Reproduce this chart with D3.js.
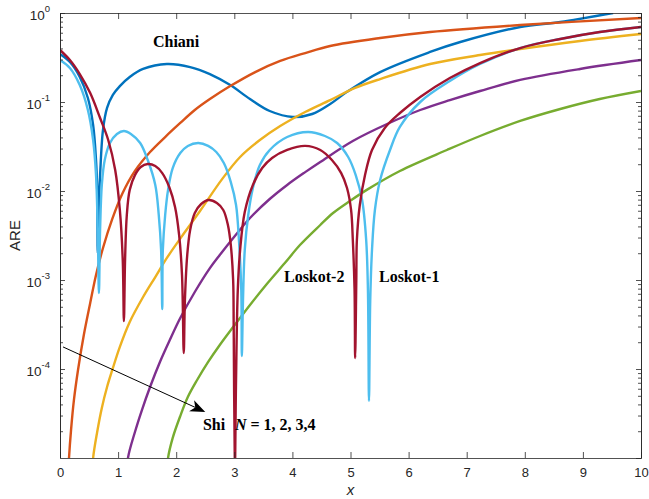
<!DOCTYPE html>
<html><head><meta charset="utf-8">
<script src="https://cdn.jsdelivr.net/npm/d3@7"></script>
<style>body{margin:0;background:#fff}</style>
</head><body>
<script>
// ---- Data ----
const chianiX = [0, 0.17, 0.34, 0.48, 0.57, 0.62, 0.64, 0.65, 0.67, 0.69, 0.74, 0.81, 0.91, 1.03, 1.20, 1.43, 1.84, 2.24, 2.58, 2.93, 3.27, 3.61, 4.01, 4.34, 4.65, 4.94, 5.51, 6.37, 6.89, 7.92, 8.61, 9.52];
const chianiY = [0.346, 0.281, 0.191, 0.111, 0.0552, 0.0223, 0.0103, 0.002, 0.0079, 0.0151, 0.0485, 0.0857, 0.12, 0.151, 0.191, 0.235, 0.267, 0.247, 0.206, 0.155, 0.108, 0.0792, 0.0678, 0.0733, 0.095, 0.130, 0.217, 0.365, 0.472, 0.696, 0.792, 1.0];

const shi1X = [0.138, 0.155, 0.19, 0.24, 0.31, 0.41, 0.52, 0.62, 0.74, 0.90, 1.07, 1.29, 1.55, 1.81, 2.07, 2.32, 2.58, 2.93, 3.36, 3.79, 4.22, 4.65, 5.51, 6.37, 7.92, 10];
const shi1Y = [5.7e-6, 1e-5, 2.06e-5, 4.49e-5, 9.75e-5, 2.41e-4, 5.52e-4, 1.14e-3, 2.29e-3, 4.85e-3, 9.25e-3, 0.0168, 0.0274, 0.0404, 0.0581, 0.0813, 0.108, 0.151, 0.217, 0.289, 0.355, 0.426, 0.524, 0.612, 0.733, 0.879];

const shi2X = [0.55, 0.57, 0.64, 0.72, 0.81, 0.90, 1.03, 1.20, 1.43, 1.64, 1.84, 2.15, 2.41, 2.79, 3.10, 3.44, 3.79, 4.22, 4.65, 5.08, 5.51, 6.37, 7.23, 7.92, 8.95, 10];
const shi2Y = [5.7e-6, 1e-5, 1.96e-5, 3.65e-5, 6.28e-5, 9.75e-5, 1.77e-4, 3.37e-4, 6.44e-4, 1.08e-3, 1.77e-3, 3.46e-3, 5.96e-3, 0.0136, 0.0241, 0.0374, 0.0537, 0.0773, 0.105, 0.144, 0.181, 0.267, 0.337, 0.394, 0.485, 0.581];

const shi3X = [1.15, 1.17, 1.29, 1.41, 1.55, 1.72, 1.89, 2.07, 2.32, 2.58, 2.75, 3.01, 3.27, 3.61, 3.91, 4.22, 4.48, 5.04, 5.63, 6.20, 6.71, 7.23, 7.92, 8.95, 10];
const shi3Y = [5.7e-6, 1e-5, 1.96e-5, 3.46e-5, 6.28e-5, 1.2e-4, 2.12e-4, 3.74e-4, 7.33e-4, 1.36e-3, 1.91e-3, 3.12e-3, 4.97e-3, 8.13e-3, 0.0117, 0.0163, 0.0212, 0.0365, 0.0566, 0.0813, 0.105, 0.133, 0.177, 0.235, 0.296];

const shi4X = [1.84, 1.86, 1.94, 2.07, 2.20, 2.36, 2.55, 2.75, 2.98, 3.27, 3.56, 3.87, 4.13, 4.48, 4.70, 4.99, 5.28, 5.85, 6.66, 7.23, 7.92, 8.61, 9.29, 10];
const shi4Y = [5.7e-6, 1e-5, 1.68e-5, 2.96e-5, 4.84e-5, 7.52e-5, 1.2e-4, 1.86e-4, 2.96e-4, 5.24e-4, 9.02e-4, 1.55e-3, 2.47e-3, 4.15e-3, 5.66e-3, 7.72e-3, 0.0103, 0.0168, 0.0289, 0.0415, 0.0612, 0.0834, 0.108, 0.133];

const loskot1X = [0, 0.17, 0.34, 0.48, 0.57, 0.62, 0.65, 0.67, 0.69, 0.72, 0.77, 0.86, 0.98, 1.10, 1.22, 1.38, 1.51, 1.64, 1.70, 1.74, 1.76, 1.77, 1.81, 1.86, 1.94, 2.07, 2.20, 2.38, 2.55, 2.69, 2.82, 2.94, 3.03, 3.08, 3.12, 3.13, 3.15, 3.18, 3.24, 3.32, 3.44, 3.61, 3.91, 4.27, 4.56, 4.77, 4.96, 5.09, 5.20, 5.27, 5.30, 5.318, 5.34, 5.37, 5.42, 5.51, 5.68, 5.85, 6.20, 6.71, 7.23, 7.92, 8.61, 9.29, 10];
const loskot1Y = [0.296, 0.241, 0.155, 0.0813, 0.0374, 0.0151, 0.00365, 0.000714, 0.00365, 0.0117, 0.0223, 0.0346, 0.0437, 0.0472, 0.0437, 0.0346, 0.0223, 0.0117, 0.00537, 0.00217, 0.000472, 0.00217, 0.00537, 0.0103, 0.0181, 0.0267, 0.0321, 0.0346, 0.0321, 0.0274, 0.0206, 0.0126, 0.00696, 0.00281, 0.000773, 0.00014, 0.000596, 0.00217, 0.00537, 0.0108, 0.0196, 0.0289, 0.0404, 0.046, 0.0415, 0.0346, 0.0241, 0.0151, 0.00792, 0.00281, 0.000773, 4.37e-5, 0.000596, 0.00217, 0.00612, 0.0133, 0.0289, 0.0524, 0.1, 0.172, 0.267, 0.404, 0.511, 0.612, 0.696];

const loskot2X = [0, 0.17, 0.34, 0.52, 0.69, 0.83, 0.95, 1.03, 1.08, 1.10, 1.12, 1.15, 1.20, 1.29, 1.39, 1.51, 1.64, 1.76, 1.88, 1.98, 2.05, 2.10, 2.13, 2.15, 2.19, 2.24, 2.32, 2.43, 2.56, 2.70, 2.81, 2.89, 2.94, 2.98, 2.99, 3.01, 3.03, 3.06, 3.10, 3.18, 3.32, 3.48, 3.65, 3.91, 4.22, 4.48, 4.68, 4.84, 4.94, 5.01, 5.04, 5.07, 5.08, 5.10, 5.11, 5.16, 5.25, 5.37, 5.59, 5.85, 6.20, 6.71, 7.23, 7.92, 8.61, 9.29, 10];
const loskot2Y = [0.384, 0.296, 0.206, 0.126, 0.0661, 0.0374, 0.0172, 0.00612, 0.00168, 0.000346, 0.00168, 0.00537, 0.0103, 0.0151, 0.0186, 0.0201, 0.0191, 0.0159, 0.0111, 0.00661, 0.00321, 0.00114, 0.000151, 0.000596, 0.00191, 0.00365, 0.00566, 0.00714, 0.00792, 0.00733, 0.00612, 0.00415, 0.00247, 0.001, 0.000274, 7.3e-6, 7.52e-5, 0.000773, 0.00217, 0.00581, 0.0117, 0.0181, 0.0235, 0.0289, 0.0321, 0.0289, 0.0223, 0.0159, 0.0108, 0.00612, 0.00281, 0.000773, 0.000133, 0.001, 0.00281, 0.00696, 0.0151, 0.0289, 0.0511, 0.0752, 0.114, 0.186, 0.274, 0.404, 0.511, 0.612, 0.696];

const xTicks = [0, 1, 2, 3, 4, 5, 6, 7, 8, 9, 10];
const yTickExps = [-4, -3, -2, -1, 0];
const xLabel = "x";
const yLabel = "ARE";

// ---- Layout ----
const W = 649, H = 499;
const L = 60, R = 641, T = 13, B = 458;
const axisColor = "#262626";

const svg = d3.select("body").append("svg").attr("width", W).attr("height", H)
  .style("font-family", "'Liberation Sans', Arial, Helvetica, sans-serif");

const x = d3.scaleLinear().domain([0, 10]).range([L, R]);
const y = d3.scaleLog().domain([1e-5, 1]).range([B, T]);

svg.append("defs").append("clipPath").attr("id", "clip")
  .append("rect").attr("x", L).attr("y", T).attr("width", R - L).attr("height", B - T);

const series = [
  { name: "Chiani", xs: chianiX, ys: chianiY, color: "#0072BD" },
  { name: "Shi N=1", xs: shi1X, ys: shi1Y, color: "#D95319" },
  { name: "Shi N=2", xs: shi2X, ys: shi2Y, color: "#EDB120" },
  { name: "Shi N=3", xs: shi3X, ys: shi3Y, color: "#7E2F8E" },
  { name: "Shi N=4", xs: shi4X, ys: shi4Y, color: "#77AC30" },
  { name: "Loskot-1", xs: loskot1X, ys: loskot1Y, color: "#4DBEEE" },
  { name: "Loskot-2", xs: loskot2X, ys: loskot2Y, color: "#A2142F" }
];

const line = d3.line().x(d => x(d[0])).y(d => y(d[1])).curve(d3.curveCatmullRom.alpha(0.5));
const plot = svg.append("g").attr("clip-path", "url(#clip)");
series.forEach(s => {
  plot.append("path").datum(d3.zip(s.xs, s.ys))
    .attr("d", line).attr("fill", "none")
    .attr("stroke", s.color).attr("stroke-width", 2.4)
    .attr("stroke-linejoin", "round");
});

// ---- Axes ----
const minorY = [];
for (let e = -5; e < 0; e++) for (let k = 2; k <= 9; k++) minorY.push(k * Math.pow(10, e));
const majorY = yTickExps.map(e => Math.pow(10, e)).concat([1e-5]);

function styleAxis(g) {
  g.select(".domain").attr("stroke", axisColor).attr("stroke-width", 0.8);
  g.selectAll(".tick line").attr("stroke", axisColor).attr("stroke-width", 0.8);
  g.selectAll(".tick text").attr("fill", axisColor);
}

// bottom
const gx = svg.append("g").attr("transform", `translate(0,${B})`)
  .call(d3.axisBottom(x).tickValues(xTicks).tickSizeInner(-6).tickSizeOuter(0).tickPadding(10).tickFormat(d3.format("d")));
gx.selectAll(".tick text").attr("font-size", 13);
styleAxis(gx);
// top
const gxt = svg.append("g").attr("transform", `translate(0,${T})`)
  .call(d3.axisTop(x).tickValues(xTicks).tickSizeInner(-6).tickSizeOuter(0).tickFormat(""));
styleAxis(gxt);

// left major with labels 10^e
const gy = svg.append("g").attr("transform", `translate(${L},0)`)
  .call(d3.axisLeft(y).tickValues(yTickExps.map(e => Math.pow(10, e))).tickSizeInner(-5).tickSizeOuter(0).tickPadding(10).tickFormat(""));
styleAxis(gy);
gy.selectAll(".tick text").each(function(d) {
  const t = d3.select(this);
  const e = Math.round(Math.log10(d));
  t.text(null).attr("font-size", 13.5).attr("dy", null).attr("y", 6).attr("x", -10).attr("text-anchor", "end");
  t.append("tspan").text("10");
  t.append("tspan").attr("font-size", 9.5).attr("dy", -8).text(String(e));
});

// left minor
const gym = svg.append("g").attr("transform", `translate(${L},0)`)
  .call(d3.axisLeft(y).tickValues(minorY).tickSizeInner(-3).tickSizeOuter(0).tickFormat(""));
styleAxis(gym);
// right major & minor
const gyr = svg.append("g").attr("transform", `translate(${R},0)`)
  .call(d3.axisRight(y).tickValues(majorY).tickSizeInner(-5).tickSizeOuter(0).tickFormat(""));
styleAxis(gyr);
const gyrm = svg.append("g").attr("transform", `translate(${R},0)`)
  .call(d3.axisRight(y).tickValues(minorY).tickSizeInner(-3).tickSizeOuter(0).tickFormat(""));
styleAxis(gyrm);

// axis labels
svg.append("text").attr("x", x(5)).attr("y", 495).attr("text-anchor", "middle")
  .attr("font-size", 15).attr("font-style", "italic").attr("fill", axisColor).text(xLabel);
svg.append("text").attr("transform", `translate(20,${(T + B) / 2}) rotate(-90)`)
  .attr("text-anchor", "middle").attr("font-size", 15).attr("fill", axisColor).text(yLabel);

// ---- Annotations ----
const serif = "'Liberation Serif', 'Times New Roman', serif";
function label(xv, yv, txt) {
  return svg.append("text").attr("x", x(xv)).attr("y", y(yv))
    .attr("font-family", serif).attr("font-weight", "bold").attr("font-size", 16).attr("fill", "#000").text(txt);
}
label(1.60, 0.415, "Chiani");
label(3.855, 9.5e-4, "Loskot-2");
label(5.49, 9.5e-4, "Loskot-1");
const shi = svg.append("text").attr("x", x(2.46)).attr("y", y(2.06e-5))
  .attr("font-family", serif).attr("font-weight", "bold").attr("font-size", 16).attr("fill", "#000");
shi.append("tspan").text("Shi");
shi.append("tspan").attr("x", x(3.01)).attr("font-style", "italic").text("N");
shi.append("tspan").text(" = 1, 2, 3,4");

// arrow
const a0 = [x(0.052), y(1.77e-4)], a1 = [x(2.50), y(3.29e-5)];
const dx = a1[0] - a0[0], dy = a1[1] - a0[1], len = Math.hypot(dx, dy);
const ux = dx / len, uy = dy / len, nx = -uy, ny = ux;
const hl = 15, hw = 6, notch = 11;
svg.append("line").attr("x1", a0[0]).attr("y1", a0[1])
  .attr("x2", a1[0] - ux * notch).attr("y2", a1[1] - uy * notch)
  .attr("stroke", "#000").attr("stroke-width", 1);
const head = [
  [a1[0], a1[1]],
  [a1[0] - ux * hl + nx * hw, a1[1] - uy * hl + ny * hw],
  [a1[0] - ux * notch, a1[1] - uy * notch],
  [a1[0] - ux * hl - nx * hw, a1[1] - uy * hl - ny * hw]
];
svg.append("path").attr("d", "M" + head.map(p => p.join(",")).join("L") + "Z").attr("fill", "#000");
</script>
</body></html>
